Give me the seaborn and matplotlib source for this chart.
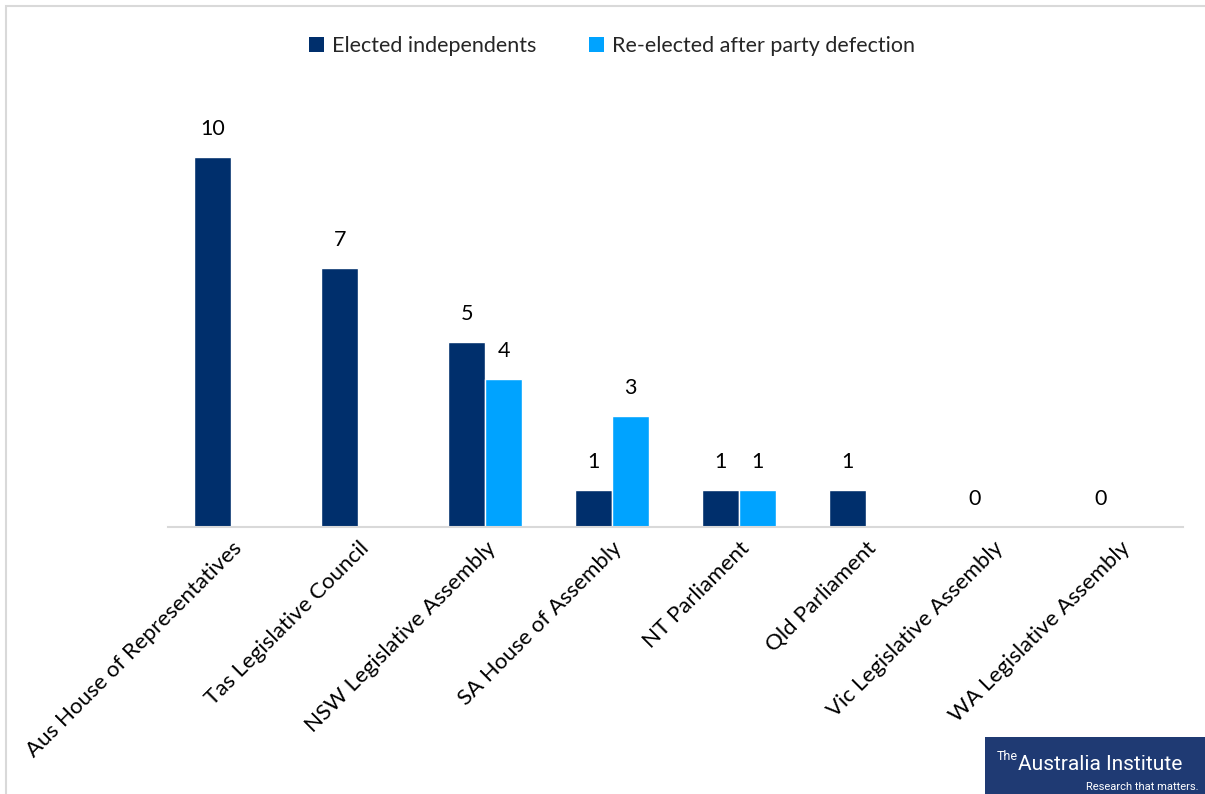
import numpy as np
import pandas as pd
import matplotlib
matplotlib.use("Agg")
import matplotlib.pyplot as plt
from matplotlib.patches import Rectangle, Patch
import seaborn as sns

categories = [
    "Aus House of Representatives",
    "Tas Legislative Council",
    "NSW Legislative Assembly",
    "SA House of Assembly",
    "NT Parliament",
    "Qld Parliament",
    "Vic Legislative Assembly",
    "WA Legislative Assembly",
]
elected_independents = [10, 7, 5, 1, 1, 1, 0, 0]
reelected_after_defection = [0, 0, 4, 3, 1, 0, 0, 0]
series_names = ["Elected independents", "Re-elected after party defection"]
colors = ["#002F6C", "#00A3FF"]

df = pd.DataFrame({
    "category": categories * 2,
    "series": [series_names[0]] * len(categories) + [series_names[1]] * len(categories),
    "value": elected_independents + reelected_after_defection,
})

sns.set_theme(style="white")
plt.rcParams["font.family"] = ["Lato", "DejaVu Sans"]

FS = 15.5

fig = plt.figure(figsize=(12.05, 7.94), dpi=100)
ax = fig.add_axes([168 / 1205, 1 - 527 / 794, (1183 - 168) / 1205, (527 - 83) / 794])

sns.barplot(data=df, x="category", y="value", hue="series", order=categories,
            hue_order=series_names, palette=colors, width=0.585, dodge=True,
            saturation=1, ax=ax, legend=False)

ax.set_ylim(0, 12)
ax.set_xlim(-0.5, len(categories) - 0.5)
ax.set_xlabel("")
ax.set_ylabel("")
ax.set_yticks([])
for side in ["top", "right", "left"]:
    ax.spines[side].set_visible(False)
ax.spines["bottom"].set_color("#D9D9D9")
ax.spines["bottom"].set_linewidth(1.5)
ax.tick_params(axis="x", length=0, pad=8)
ax.set_xticks(range(len(categories)))
ax.set_xticklabels(categories, rotation=45, ha="right", rotation_mode="anchor",
                   fontsize=16, color="#000000")

# value labels: always for the first series, only non-zero for the second
for i, container in enumerate(ax.containers):
    vals = elected_independents if i == 0 else reelected_after_defection
    for bar, v in zip(container, vals):
        if i == 1 and v == 0:
            continue
        ax.annotate(f"{v}", (bar.get_x() + bar.get_width() / 2, bar.get_height()),
                    xytext=(0, 13), textcoords="offset points", ha="center",
                    va="bottom", fontsize=FS, color="#000000")

handles = [Patch(facecolor=c, edgecolor="none") for c in colors]
fig.legend(handles, series_names, loc="center", bbox_to_anchor=(612 / 1205, 1 - 46 / 794),
           ncol=2, frameon=False, fontsize=FS, handlelength=0.7, handleheight=0.7,
           columnspacing=2.4, handletextpad=0.4)

# chart border
fig.patches.append(Rectangle((6 / 1205, -0.05), 1.2, 1 - 6 / 794 + 0.05,
                             transform=fig.transFigure, fill=False,
                             edgecolor="#D9D9D9", linewidth=1.5))

# logo box
fig.patches.append(Rectangle((985 / 1205, 0), 220 / 1205, 57 / 794,
                             transform=fig.transFigure, facecolor="#1F3A73",
                             edgecolor="none", zorder=5))
logo_font = ["Roboto", "DejaVu Sans"]
fig.text(997 / 1205, 1 - 763 / 794, "The", fontsize=9, color="white",
         va="bottom", ha="left", zorder=6, family=logo_font)
fig.text(1018 / 1205, 1 - 774 / 794, "Australia Institute", fontsize=15, color="white",
         va="bottom", ha="left", zorder=6, family=logo_font)
fig.text(1199 / 1205, 1 - 792 / 794, "Research that matters.", fontsize=8, color="white",
         va="bottom", ha="right", zorder=6, family=logo_font)

fig.savefig("out.png", dpi=100)
